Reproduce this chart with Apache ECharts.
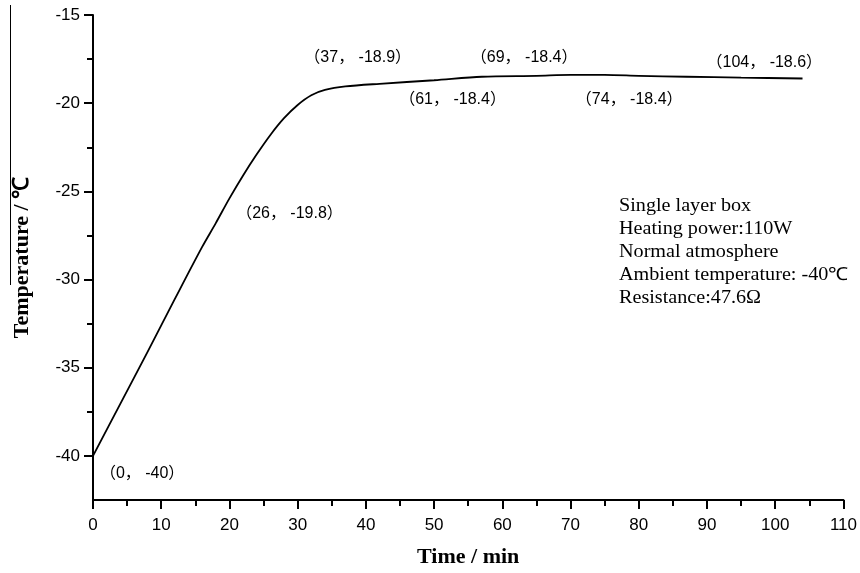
<!DOCTYPE html>
<html>
<head>
<meta charset="utf-8">
<script src="https://cdn.jsdelivr.net/npm/echarts@6/dist/echarts.min.js"></script>
<style>
  html, body { margin: 0; padding: 0; background: #fff; }
  #chart { width: 860px; height: 573px; }
</style>
</head>
<body>
<div id="chart"></div>
<script>
// heating curve
const timeMin = [0, 4, 8, 12, 16, 18, 20, 22, 24, 26, 28, 30, 32, 34, 37, 42, 50, 57, 65, 70, 75, 80, 87, 95, 104]
const tempC = [-40, -37.05, -34.1, -31.1, -28.15, -26.8, -25.4, -24.1, -22.9, -21.8, -20.85, -20.1, -19.55, -19.25, -19.05, -18.9, -18.7, -18.5, -18.45, -18.4, -18.4, -18.45, -18.5, -18.55, -18.6]

// point annotations (text placed in data units)
const noteText = ['（37， -18.9）', '（69， -18.4）', '（104， -18.6）', '（61， -18.4）', '（74， -18.4）', '（26， -19.8）', '（0， -40）']
const noteX = [38.8, 63.2, 98.4, 52.7, 78.6, 28.8, 7.2]
const noteY = [-17.4, -17.4, -17.7, -19.8, -19.8, -26.25, -41.0]

const majorY = [-40, -35, -30, -25, -20, -15]
const minorY = [-37.5, -32.5, -27.5, -22.5, -17.5]

const infoLines = [
  'Single layer box',
  'Heating power:110W',
  'Normal atmosphere',
  'Ambient temperature: -40℃',
  'Resistance:47.6Ω',
]

const chart = echarts.init(document.getElementById('chart'))

const axisLine = { show: true, lineStyle: { color: '#000', width: 2 } }
const tickFont = { color: '#000', fontSize: 17, fontFamily: 'Liberation Sans, Arial, sans-serif' }
const nameFont = { color: '#000', fontSize: 22, fontWeight: 'bold', fontFamily: 'Liberation Serif, serif' }

chart.setOption({
  animation: false,
  grid: { left: 93, right: 15, top: 15, bottom: 73 },
  xAxis: {
    type: 'value',
    min: 0,
    max: 110,
    interval: 10,
    name: 'Time / min',
    nameLocation: 'middle',
    nameGap: 46,
    nameTextStyle: nameFont,
    axisLine,
    axisTick: { show: true, inside: false, length: 9, lineStyle: { color: '#000', width: 2 } },
    minorTick: { show: true, splitNumber: 2, length: 6, lineStyle: { color: '#000', width: 2 } },
    axisLabel: { ...tickFont, margin: 17 },
    splitLine: { show: false },
  },
  yAxis: [
    {
      type: 'value',
      min: -42.5,
      max: -15,
      name: 'Temperature / ℃',
      nameLocation: 'middle',
      nameGap: 60,
      nameTextStyle: nameFont,
      axisLine,
      axisTick: { show: true, length: 9, customValues: majorY, lineStyle: { color: '#000', width: 2 } },
      axisLabel: { ...tickFont, margin: 13, customValues: majorY },
      splitLine: { show: false },
    },
    {
      type: 'value',
      min: -42.5,
      max: -15,
      position: 'left',
      axisLine: { show: false },
      axisTick: { show: true, length: 6, customValues: minorY, lineStyle: { color: '#000', width: 2 } },
      axisLabel: { show: false },
      splitLine: { show: false },
    },
  ],
  graphic: [
    {
      type: 'line',
      shape: { x1: 10.5, y1: 5, x2: 10.5, y2: 285 },
      style: { stroke: '#000', lineWidth: 1 },
    },
    {
      type: 'text',
      left: 619,
      top: 195,
      scaleX: 1.12,
      style: {
        text: infoLines.join('\n'),
        font: '18px "Liberation Serif", serif',
        lineHeight: 23,
        fill: '#000',
      },
    },
  ],
  series: [
    {
      type: 'line',
      data: timeMin.map((t, i) => [t, tempC[i]]),
      smooth: 0.3,
      showSymbol: false,
      lineStyle: { color: '#000', width: 1.8 },
    },
    {
      type: 'scatter',
      symbolSize: 0,
      itemStyle: { opacity: 1 },
      data: noteX.map((x, i) => ({ value: [x, noteY[i]], name: noteText[i] })),
      label: {
        show: true,
        position: 'inside',
        formatter: (p) => p.name,
        color: '#000',
        opacity: 1,
        fontSize: 16,
        fontFamily: 'Liberation Sans, Noto Sans CJK SC, sans-serif',
      },
      silent: true,
    },
  ],
})
</script>
</body>
</html>
